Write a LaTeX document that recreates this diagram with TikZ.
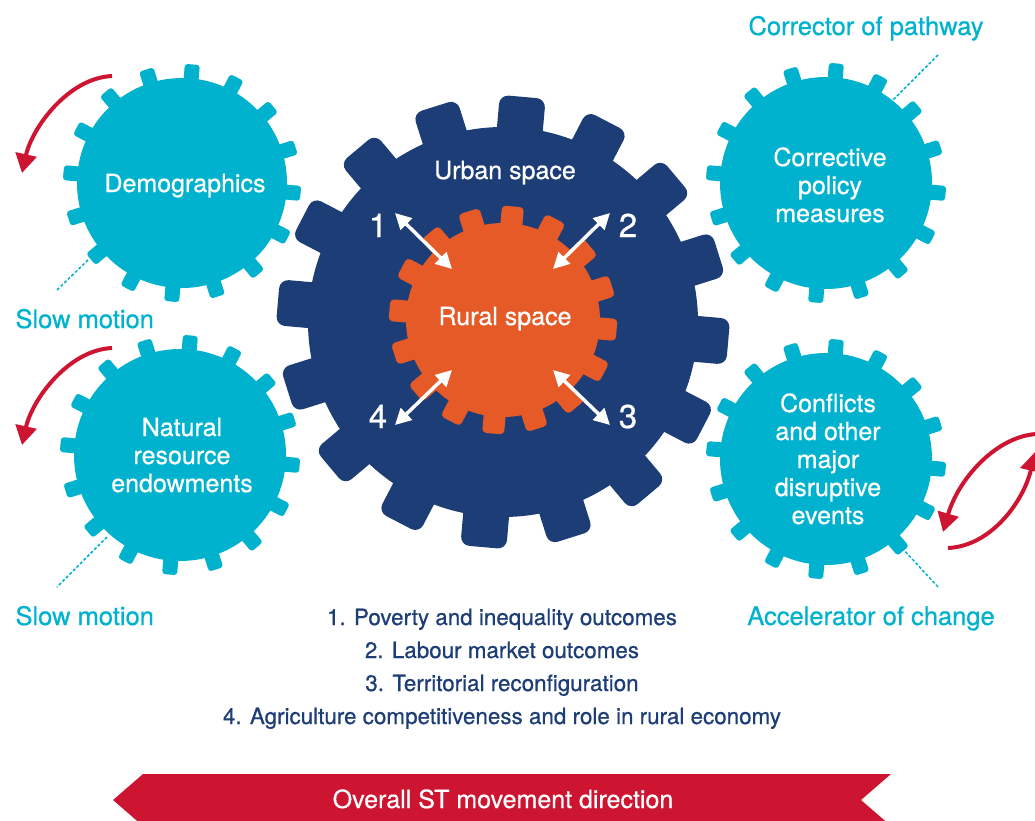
\documentclass[tikz,border=0pt]{standalone}
\usepackage{fontspec}
\setmainfont{TeX Gyre Heros}[FakeBold=0.6]
\usetikzlibrary{arrows.meta}
\definecolor{gcyan}{HTML}{00B2CD}
\definecolor{gblue}{HTML}{1D3D77}
\definecolor{gorange}{HTML}{E55A26}
\definecolor{gred}{HTML}{CD1531}
% gear: x, y, body radius, outer radius, tooth width, corner radius, colour
\newcommand{\mygear}[7]{%
  \fill[#7] (#1,#2) circle (#3);
  \foreach \k in {0,...,15}{%
    \begin{scope}[shift={(#1,#2)}, rotate=17.5+22.5*\k]
      \fill[#7, rounded corners=#6] (#3-10,-#5/2) rectangle (#4,#5/2);
    \end{scope}
  }%
}
\begin{document}
\begin{tikzpicture}[x=1pt,y=-1pt,
  gtext/.style={text=white, font=\fontsize{25}{28}\selectfont, align=center, anchor=base},
  ltext/.style={text=gcyan, font=\fontsize{25.5}{28}\selectfont, anchor=base},
  listtext/.style={text=gblue, font=\fontsize{22.4}{33}\selectfont, align=center, anchor=base},
  numtext/.style={text=white, font=\fontsize{33}{36}\selectfont, anchor=base},
  bantext/.style={text=white, font=\fontsize{25}{28}\selectfont, anchor=base},
  redarrow/.style={draw=gred, line width=4pt, -{Triangle[length=19pt,width=21pt]}},
  warrow/.style={draw=white, line width=3.5pt, {Triangle[length=16pt,width=16pt]}-{Triangle[length=16pt,width=16pt]}},
  leader/.style={draw=gcyan, line width=1.5pt, dash pattern=on 3pt off 2pt}]
\useasboundingbox (0,0) rectangle (1035,820);
\clip (0,0) rectangle (1035,820);

% gears
\mygear{182}{183}{105}{119}{15}{3pt}{gcyan}
\mygear{180}{455}{106}{120}{15}{3pt}{gcyan}
\mygear{826}{183}{106}{120}{15}{3pt}{gcyan}
\mygear{826}{459}{106}{120}{15}{3pt}{gcyan}
\mygear{503}{322}{195}{226}{46}{9pt}{gblue}
\mygear{503}{320}{97}{114}{22}{4pt}{gorange}

% gear texts (multi-line nodes: base = last line)
\node[gtext] (demo) at (185,192) {Demographics};
\node[gtext] (natural) at (182,492) {Natural\\resource\\endowments};
\node[gtext] (policy) at (830,222) {Corrective\\policy\\measures};
\node[gtext] (conflicts) at (828,524) {Conflicts\\and other\\major\\disruptive\\events};
\node[gtext] (urban) at (505,179) {Urban space};
\node[gtext] (rural) at (505,325) {Rural space};

% numbers
\node[numtext] (n1) at (378,237) {1};
\node[numtext] (n2) at (628,237) {2};
\node[numtext] (n3) at (628,428) {3};
\node[numtext] (n4) at (378,428) {4};

% white double arrows
\coordinate (a1o) at (395,213); \coordinate (a1i) at (452,269);
\coordinate (a2o) at (610,213); \coordinate (a2i) at (553,269);
\coordinate (a3o) at (610,425); \coordinate (a3i) at (553,370);
\coordinate (a4o) at (395,425); \coordinate (a4i) at (452,370);
\draw[warrow] (a1o) -- (a1i);
\draw[warrow] (a2o) -- (a2i);
\draw[warrow] (a3o) -- (a3i);
\draw[warrow] (a4o) -- (a4i);

% red rotation arrows
\coordinate (r1s) at (112,76);  \coordinate (r1e) at (22,173);
\draw[redarrow] (r1s) .. controls (68,78) and (32,128) .. (r1e);
\coordinate (r2s) at (112,348); \coordinate (r2e) at (22,445);
\draw[redarrow] (r2s) .. controls (68,350) and (32,400) .. (r2e);
\coordinate (r3s) at (1036,434); \coordinate (r3e) at (943,532);
\draw[redarrow] (r3s) .. controls (995,437) and (958,480) .. (r3e);
\coordinate (r4s) at (948,548); \coordinate (r4e) at (1035,452);
\draw[redarrow] (r4s) .. controls (992,546) and (1024,500) .. (r4e);

% labels and leaders
\node[ltext] (corr) at (866,35) {Corrector of pathway};
\node[ltext, anchor=base west] (slow1) at (12,328) {Slow motion};
\node[ltext, anchor=base west] (slow2) at (12,625) {Slow motion};
\node[ltext] (accel) at (871,625) {Accelerator of change};
\coordinate (l1a) at (88,260);  \coordinate (l1b) at (57,290);
\coordinate (l2a) at (107,537); \coordinate (l2b) at (57,587);
\coordinate (l3a) at (938,55);  \coordinate (l3b) at (893,100);
\coordinate (l4a) at (902,548); \coordinate (l4b) at (938,587);
\draw[leader] (l1a) -- (l1b);
\draw[leader] (l2a) -- (l2b);
\draw[leader] (l3a) -- (l3b);
\draw[leader] (l4a) -- (l4b);

% list
\node[listtext] (list) at (502,724) {1. Poverty and inequality outcomes\\2. Labour market outcomes\\3. Territorial reconfiguration\\4. Agriculture competitiveness and role in rural economy};

% banner
\fill[gred] (143,774) -- (891,774) -- (861,800) -- (891,826) -- (143,826) -- (113,800) -- cycle;
\node[bantext] (banner) at (503,808) {Overall ST movement direction};
\end{tikzpicture}
\end{document}
